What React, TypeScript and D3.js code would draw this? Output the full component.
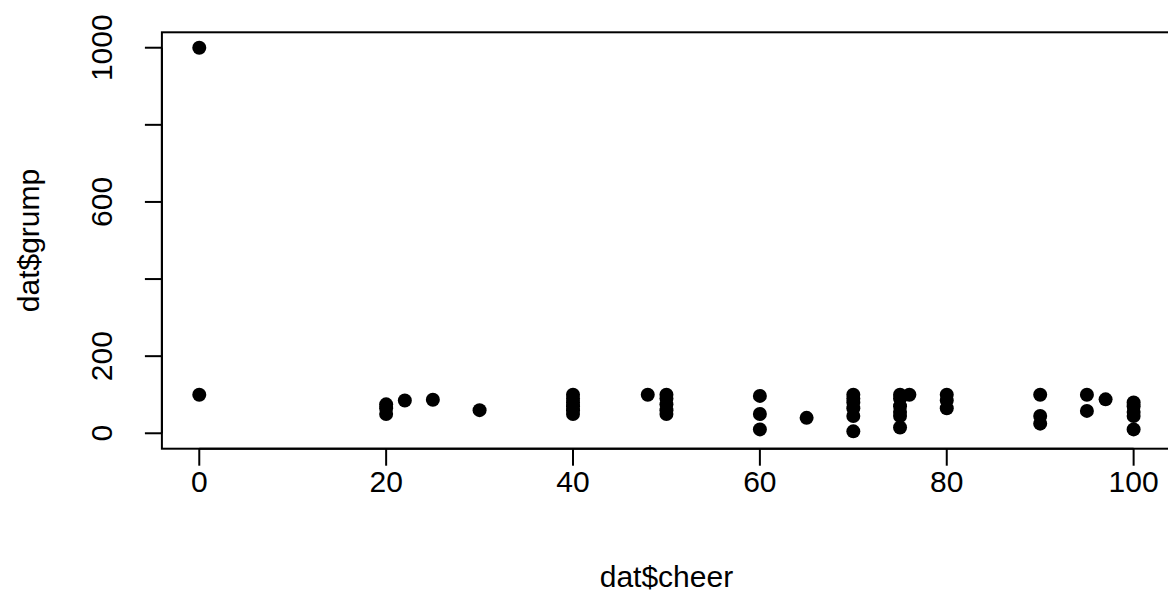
import * as d3 from 'd3';

const cheer = [0, 0, 20, 20, 20, 22, 25, 30, 40, 40, 40, 40, 40, 40, 48, 50, 50, 50, 50, 50,
  60, 60, 60, 65, 70, 70, 70, 70, 70, 70, 75, 75, 75, 75, 75, 75, 76, 80, 80, 80,
  90, 90, 90, 95, 95, 97, 100, 100, 100, 100, 100];
const grump = [1000, 100, 75, 65, 50, 85, 87, 60, 100, 90, 80, 70, 60, 50, 100, 100, 90, 75, 60, 50,
  97, 50, 10, 40, 100, 90, 80, 65, 45, 5, 100, 90, 70, 55, 45, 15, 100, 100, 85, 65,
  100, 45, 25, 100, 58, 88, 80, 70, 55, 45, 10];

const xTicks = [0, 20, 40, 60, 80, 100];
const yTicks = [0, 200, 400, 600, 800, 1000];
const yLabelled = [0, 200, 600, 1000];

export default function App() {
  const width = 1168, height = 595;
  const left = 161.9, right = 1171, top = 32.3, bottom = 448.7;
  // R-style 4% padding on the data range
  const x = d3.scaleLinear().domain([-4, 104]).range([left, right]);
  const y = d3.scaleLinear().domain([-40, 1040]).range([bottom, top]);
  const font = '"Liberation Sans", Arial, sans-serif';
  const fs = 30;
  const tick = 17;
  const pts = cheer.map((c, i) => ({ c, g: grump[i] }));

  return (
    <svg width={width} height={height} style={{ position: 'absolute', left: 0, top: 0, background: '#fff' }}
      fontFamily={font} fontSize={fs}>
      <rect x={0} y={0} width={width} height={height} fill="#fff" />
      {pts.map((d, i) => (
        <circle key={i} cx={x(d.c)} cy={y(d.g)} r={7} fill="#000" />
      ))}
      <rect x={left} y={top} width={right - left} height={bottom - top} fill="none" stroke="#000" strokeWidth={2} />
      {/* x axis */}
      <line x1={x(0)} x2={x(100)} y1={bottom} y2={bottom} stroke="#000" strokeWidth={2} />
      {xTicks.map(t => (
        <g key={t}>
          <line x1={x(t)} x2={x(t)} y1={bottom} y2={bottom + tick} stroke="#000" strokeWidth={2} />
          <text x={x(t)} y={492} textAnchor="middle">{t}</text>
        </g>
      ))}
      {/* y axis */}
      <line x1={left} x2={left} y1={y(0)} y2={y(1000)} stroke="#000" strokeWidth={2} />
      {yTicks.map(t => (
        <line key={t} x1={left - tick} x2={left} y1={y(t)} y2={y(t)} stroke="#000" strokeWidth={2} />
      ))}
      {yLabelled.map(t => (
        <text key={t} transform={`translate(112,${y(t)}) rotate(-90)`} textAnchor="middle">{t}</text>
      ))}
      <text x={(left + right) / 2} y={587} textAnchor="middle">dat$cheer</text>
      <text transform={`translate(39,${(top + bottom) / 2}) rotate(-90)`} textAnchor="middle">dat$grump</text>
    </svg>
  );
}
